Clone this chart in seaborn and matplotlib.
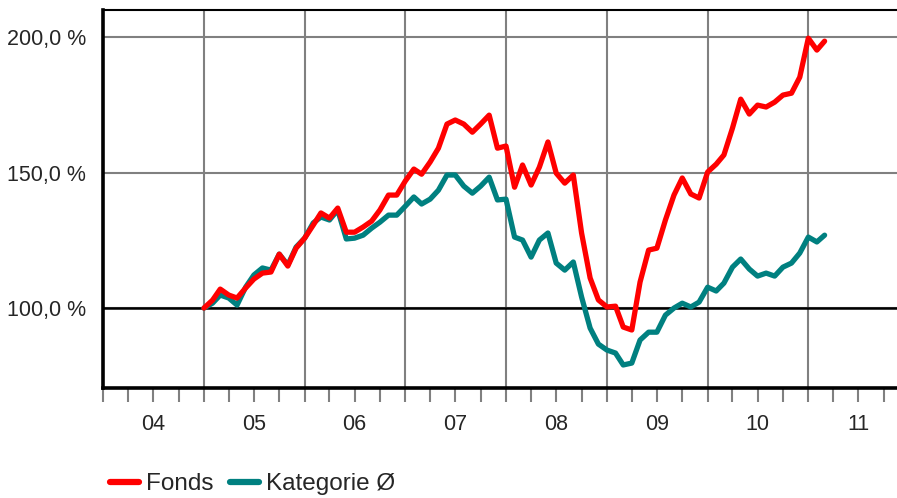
import numpy as np
import pandas as pd
import matplotlib
matplotlib.use("Agg")
import matplotlib.pyplot as plt
import matplotlib.dates as mdates
from matplotlib.ticker import FuncFormatter
import seaborn as sns

# Werte (monatlich, Start = 100 %)
monate = pd.date_range("2005-01-01", "2011-03-01", freq="MS")

fonds = [
    100.0, 102.9, 107.0, 104.8, 103.7, 107.4, 110.7, 112.9, 113.3, 119.9, 115.5, 122.1,
    125.8, 130.6, 135.1, 133.2, 136.9, 128.0, 128.0, 129.9, 132.1, 136.2, 141.7, 141.7,
    146.9, 151.3, 149.4, 153.9, 159.0, 167.9, 169.4, 167.9, 164.9, 167.9, 171.2, 159.0,
    159.8, 144.6, 152.8, 145.4, 152.0, 161.3, 149.8, 146.1, 149.1, 127.7, 111.1, 103.0,
    100.4, 100.7, 93.0, 91.9, 109.6, 121.4, 122.1, 132.5, 141.7, 148.0, 142.1, 140.6,
    150.2, 153.1, 156.5, 166.4, 177.1, 171.6, 174.9, 174.2, 176.0, 178.6, 179.3, 185.2,
    199.6, 195.2, 198.5,
]

kategorie = [
    100.0, 101.8, 104.8, 103.7, 101.1, 107.7, 112.2, 114.8, 114.0, 119.9, 115.9, 122.5,
    125.8, 131.4, 133.6, 132.5, 136.2, 125.5, 125.8, 126.9, 129.5, 131.7, 134.3, 134.3,
    137.6, 141.0, 138.4, 140.2, 143.5, 149.1, 149.1, 145.0, 142.4, 145.0, 148.3, 139.9,
    140.2, 126.2, 125.1, 118.8, 125.1, 127.7, 116.6, 114.0, 117.0, 104.1, 92.6, 86.7,
    84.5, 83.4, 79.0, 79.7, 88.2, 91.1, 91.1, 97.4, 100.0, 101.8, 100.4, 102.2,
    107.7, 106.3, 109.2, 115.1, 118.1, 114.4, 111.8, 112.9, 111.8, 115.1, 116.6, 120.3,
    126.2, 124.4, 126.9,
]

y_ticks = [100, 150, 200]

df = pd.DataFrame({"Datum": monate, "Fonds": fonds, "Kategorie Ø": kategorie})
df_long = df.melt(id_vars="Datum", var_name="Serie", value_name="Wert")

sns.set_style("white")
plt.rcParams["font.family"] = ["Liberation Sans", "DejaVu Sans"]

fig = plt.figure(figsize=(8.97, 4.98), dpi=100)
ax = fig.add_axes([103 / 897, 110 / 498, 806 / 897, 378 / 498])

sns.lineplot(data=df_long, x="Datum", y="Wert", hue="Serie",
             palette={"Fonds": "#ff0000", "Kategorie Ø": "#008080"},
             hue_order=["Kategorie Ø", "Fonds"],
             linewidth=3.8, ax=ax, legend=False)

ax.set_xlim(pd.Timestamp("2004-01-01"), pd.Timestamp("2012-01-01"))
ax.set_ylim(70.5, 210)
ax.set_xlabel("")
ax.set_ylabel("")

# y-Achse
ax.set_yticks(y_ticks)
ax.yaxis.set_major_formatter(FuncFormatter(lambda v, p: f"{v:.1f} %".replace(".", ",")))
ax.tick_params(axis="y", length=10, width=1.5, color="#808080", pad=2, labelsize=15.5)
ax.grid(axis="y", color="#808080", linewidth=1.5)
ax.axhline(100, color="black", linewidth=1.8, zorder=1.5)

# x-Achse
ax.xaxis.set_major_locator(mdates.YearLocator())
ax.xaxis.set_major_formatter(FuncFormatter(lambda v, p: ""))
ax.xaxis.set_minor_locator(mdates.MonthLocator(bymonth=[4, 7, 10]))
ax.xaxis.set_minor_formatter(FuncFormatter(
    lambda v, p: mdates.num2date(v).strftime("%y") if mdates.num2date(v).month == 7 else ""))
ax.tick_params(axis="x", which="both", length=10, width=1.5, color="#808080",
               labelsize=15.5, bottom=True)
ax.tick_params(axis="x", which="minor", pad=9)
ax.grid(axis="x", which="major", color="#808080", linewidth=1.5)
ax.set_axisbelow(True)

for s in ["left", "bottom"]:
    ax.spines[s].set_linewidth(2.6)
    ax.spines[s].set_color("black")
ax.spines["top"].set_linewidth(1.5)
ax.spines["top"].set_color("black")
ax.spines["right"].set_visible(False)

# Legende
handles = [plt.Line2D([], [], color="#ff0000", linewidth=4.5, solid_capstyle="round"),
           plt.Line2D([], [], color="#008080", linewidth=4.5, solid_capstyle="round")]
fig.legend(handles, ["Fonds", "Kategorie Ø"], loc="center left",
           bbox_to_anchor=(110 / 897, 14 / 498), ncol=2, frameon=False,
           fontsize=17.5, handlelength=1.2, handletextpad=0.3, columnspacing=0.65,
           borderaxespad=0, borderpad=0)

fig.savefig("out.png", dpi=100)
